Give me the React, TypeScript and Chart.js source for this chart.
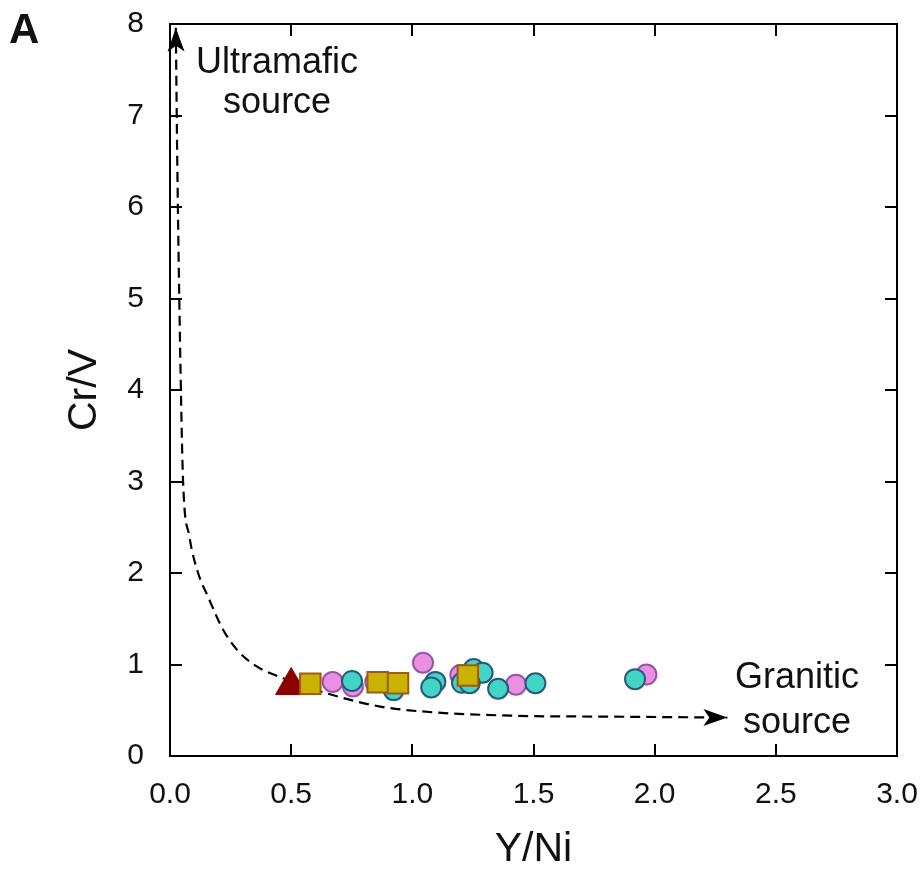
import React, { useEffect, useRef } from 'react';
import { Chart, registerables } from 'chart.js';

Chart.register(...registerables);

const FONT = '"Liberation Sans", Arial, Helvetica, sans-serif';

// Axis ticks
const xTickValues = [0, 0.5, 1.0, 1.5, 2.0, 2.5, 3.0];
const yTickValues = [0, 1, 2, 3, 4, 5, 6, 7, 8];

// Sample groups (Y/Ni, Cr/V)
const pinkX = [0.671, 0.755, 0.847, 1.044, 1.198, 1.428, 1.966];
const pinkY = [0.81, 0.76, 0.81, 1.02, 0.885, 0.78, 0.89];

const tealX = [0.751, 0.923, 1.095, 1.078, 1.205, 1.253, 1.29, 1.237, 1.354, 1.508, 1.919];
const tealY = [0.82, 0.72, 0.81, 0.75, 0.8, 0.95, 0.91, 0.795, 0.735, 0.795, 0.84];

const squareX = [0.579, 0.857, 0.941, 1.229];
const squareY = [0.79, 0.805, 0.795, 0.88];

const triangleX = [0.5];
const triangleY = [0.77];

// Mixing trend from ultramafic to granitic source
const trendX = [0.024, 0.03, 0.045, 0.054, 0.08, 0.116, 0.157, 0.219, 0.277, 0.351, 0.467, 0.653, 0.868, 1.074, 1.417, 1.83, 2.3];
const trendY = [7.96, 6.5, 4.0, 3.0, 2.4, 2.0, 1.74, 1.38, 1.16, 0.99, 0.85, 0.68, 0.54, 0.48, 0.44, 0.43, 0.42];

// Source labels: [text, x, baseline y]
const sourceLabels: [string, number, number][] = [
  ['Ultramafic', 0.442, 7.46],
  ['source', 0.442, 7.03],
  ['Granitic', 2.587, 0.743],
  ['source', 2.587, 0.251],
];

const pts = (xs: number[], ys: number[]) => xs.map((x, i) => ({ x, y: ys[i] }));

const drawArrow = (ctx: CanvasRenderingContext2D, tx: number, ty: number, fx: number, fy: number) => {
  let dx = tx - fx;
  let dy = ty - fy;
  const len = Math.hypot(dx, dy) || 1;
  dx /= len;
  dy /= len;
  const nx = -dy;
  const ny = dx;
  const L = 24;
  const W = 8.5;
  const notch = 6;
  ctx.beginPath();
  ctx.moveTo(tx, ty);
  ctx.lineTo(tx - dx * L + nx * W, ty - dy * L + ny * W);
  ctx.lineTo(tx - dx * (L - notch), ty - dy * (L - notch));
  ctx.lineTo(tx - dx * L - nx * W, ty - dy * L - ny * W);
  ctx.closePath();
  ctx.fill();
};

const framePlugin = {
  id: 'frameAndNotes',
  afterDraw(chart: any) {
    const { ctx, chartArea } = chart;
    const xs = chart.scales.x;
    const ys = chart.scales.y;
    const { left, right, top, bottom } = chartArea;
    ctx.save();

    // Arrowheads at both ends of the trend
    const tp = trendX.map((x, i) => [xs.getPixelForValue(x), ys.getPixelForValue(trendY[i])]);
    ctx.fillStyle = '#000';
    drawArrow(ctx, tp[0][0], tp[0][1], tp[1][0], tp[1][1]);
    const n = tp.length;
    drawArrow(ctx, tp[n - 1][0], tp[n - 1][1], tp[n - 2][0], tp[n - 2][1]);

    // Box with inward ticks on all sides
    ctx.strokeStyle = '#000';
    ctx.lineWidth = 2;
    ctx.strokeRect(left, top, right - left, bottom - top);
    const tl = 12;
    ctx.beginPath();
    xTickValues.forEach((v) => {
      const px = Math.round(xs.getPixelForValue(v));
      ctx.moveTo(px, bottom);
      ctx.lineTo(px, bottom - tl);
      ctx.moveTo(px, top);
      ctx.lineTo(px, top + tl);
    });
    yTickValues.forEach((v) => {
      const py = Math.round(ys.getPixelForValue(v));
      ctx.moveTo(left, py);
      ctx.lineTo(left + tl, py);
      ctx.moveTo(right, py);
      ctx.lineTo(right - tl, py);
    });
    ctx.stroke();

    // Source annotations
    ctx.fillStyle = '#111';
    ctx.font = `36px ${FONT}`;
    ctx.textAlign = 'center';
    ctx.textBaseline = 'alphabetic';
    sourceLabels.forEach(([t, x, y]) => {
      ctx.fillText(t, xs.getPixelForValue(x), ys.getPixelForValue(y));
    });

    // Panel letter
    ctx.font = `bold 42px ${FONT}`;
    ctx.textAlign = 'left';
    ctx.fillText('A', 9, 43);
    ctx.restore();
  },
};

export default function App() {
  const ref = useRef<HTMLCanvasElement | null>(null);

  useEffect(() => {
    if (!ref.current) return;
    const chart = new Chart(ref.current, {
      type: 'scatter',
      data: {
        datasets: [
          {
            label: 'Trend',
            type: 'line',
            data: pts(trendX, trendY),
            borderColor: '#000',
            borderWidth: 2.2,
            borderDash: [10, 6],
            pointRadius: 0,
            fill: false,
            cubicInterpolationMode: 'monotone',
            order: 5,
          } as any,
          {
            label: 'Group 1',
            data: pts(pinkX, pinkY),
            backgroundColor: '#EA8FE2',
            borderColor: '#9456AA',
            borderWidth: 2,
            pointRadius: 10,
            order: 4,
          },
          {
            label: 'Group 2',
            data: pts(tealX, tealY),
            backgroundColor: '#42D4C4',
            borderColor: '#275A7C',
            borderWidth: 2,
            pointRadius: 10,
            order: 3,
          },
          {
            label: 'Group 3',
            data: pts(triangleX, triangleY),
            backgroundColor: '#8B0000',
            borderColor: '#8B0000',
            borderWidth: 1,
            pointStyle: 'triangle',
            pointRadius: 18,
            order: 2,
          },
          {
            label: 'Group 4',
            data: pts(squareX, squareY),
            backgroundColor: '#C9B300',
            borderColor: '#A05A18',
            borderWidth: 2,
            pointStyle: 'rect',
            pointRadius: 14.5,
            order: 1,
          },
        ],
      },
      options: {
        responsive: false,
        animation: false,
        layout: { padding: { top: 24, right: 26, left: 0, bottom: 0 } },
        plugins: {
          legend: { display: false },
          tooltip: { enabled: false },
        },
        scales: {
          x: {
            type: 'linear',
            min: 0,
            max: 3,
            grid: { display: false, drawTicks: false },
            border: { display: false },
            afterFit: (s: any) => {
              s.height = 118;
              s.paddingLeft = 0;
              s.paddingRight = 0;
            },
            afterBuildTicks: (s: any) => {
              s.ticks = xTickValues.map((v) => ({ value: v }));
            },
            ticks: {
              color: '#111',
              padding: 21,
              font: { family: FONT, size: 30 },
              callback: (v: any) => Number(v).toFixed(1),
            },
            title: {
              display: true,
              text: 'Y/Ni',
              color: '#111',
              font: { family: FONT, size: 41 },
              padding: { top: 0, bottom: 0 },
            },
          },
          y: {
            type: 'linear',
            min: 0,
            max: 8,
            grid: { display: false, drawTicks: false },
            border: { display: false },
            afterFit: (s: any) => {
              s.width = 170;
              s.paddingTop = 0;
              s.paddingBottom = 0;
            },
            afterBuildTicks: (s: any) => {
              s.ticks = yTickValues.map((v) => ({ value: v }));
            },
            ticks: {
              color: '#111',
              padding: 26,
              font: { family: FONT, size: 30 },
              callback: (v: any) => String(v),
            },
            title: {
              display: true,
              text: 'Cr/V',
              color: '#111',
              font: { family: FONT, size: 41 },
              padding: { top: 60, bottom: 0 },
            },
          },
        },
      },
      plugins: [framePlugin],
    });
    return () => chart.destroy();
  }, []);

  return (
    <div style={{ position: 'absolute', left: 0, top: 0, width: 923, height: 874, background: '#fff' }}>
      <canvas ref={ref} width={923} height={874} style={{ display: 'block' }} />
    </div>
  );
}
